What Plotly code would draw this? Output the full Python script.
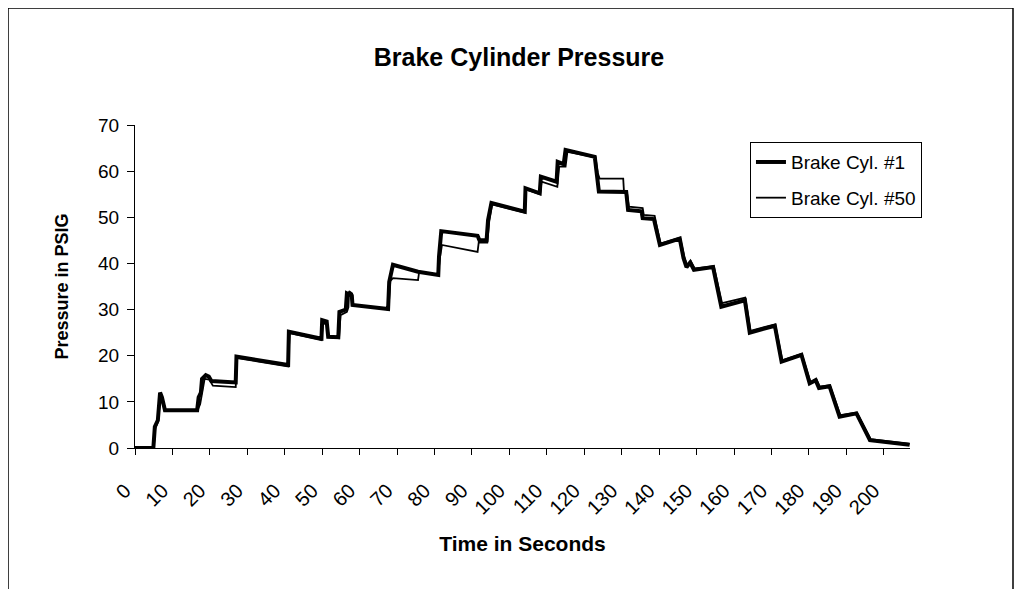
import plotly.graph_objects as go

# Brake Cyl. #1 (time in s, pressure in PSIG)
t_cyl1 = [0, 4.9, 5.3, 6.1, 6.7, 7.2, 8.0,
          16.6, 17.0, 17.6, 17.9, 18.9, 19.7, 20.4, 26.9,
          27.1, 40.9, 41.1, 49.8,
          50.0, 51.2, 51.6, 54.3,
          54.6, 56.3, 56.6, 57.9, 58.1, 67.6,
          67.9, 68.9, 75.6, 81.0,
          81.2, 81.8, 91.5, 92.0, 93.9,
          94.3, 95.2, 104.1,
          104.3, 108.1,
          108.4, 112.6,
          112.9, 114.5, 115.0, 122.8,
          123.3, 123.9, 131.2,
          131.7, 135.3,
          135.6, 138.6,
          139.3, 140.2, 145.5,
          146.5, 147.3, 148.3, 149.3, 154.4,
          156.6, 162.9,
          164.2, 170.9,
          172.7, 178.0,
          180.2, 181.8, 182.7, 185.5,
          188.2, 192.7,
          196.3, 206.9]
p_cyl1 = [0, 0, 4.6, 6.0, 12.0, 11.0, 8.2,
          8.2, 11.0, 12.0, 15.0, 15.8, 15.5, 14.5, 14.2,
          19.8, 18.0, 25.2, 23.7,
          27.7, 27.4, 24.1, 24.0,
          29.5, 30.0, 33.5, 33.0, 31.0, 30.1,
          36.0, 39.7, 38.2, 37.5,
          41.5, 47.0, 46.0, 45.0, 45.0,
          49.4, 53.1, 51.2,
          56.3, 55.2,
          58.8, 57.7,
          62.0, 61.5, 64.6, 63.1,
          60.0, 55.6, 55.5,
          51.6, 51.3,
          49.8, 49.6,
          47.2, 44.0, 45.4,
          41.2, 39.2, 40.2, 38.6, 39.2,
          30.6, 32.0,
          25.0, 26.5,
          18.7, 20.2,
          14.0, 14.7, 13.0, 13.4,
          6.8, 7.5,
          1.7, 0.7]

# Brake Cyl. #50
t_cyl50 = [0, 5.0, 5.4, 6.2, 6.8, 7.3, 8.1,
           16.6, 17.4, 17.9, 18.3, 18.6, 19.9, 20.8, 26.9,
           27.3, 40.9, 41.3, 49.8,
           50.2, 51.3, 51.8, 54.5,
           54.9, 56.6, 57.0, 57.2, 58.0, 58.3, 67.7,
           68.2, 68.9, 75.6, 75.9, 81.0,
           81.4, 82.0, 91.5, 91.8, 94.1,
           94.6, 95.4, 104.1,
           104.5, 108.2,
           108.6, 112.8,
           113.3, 115.0, 115.5, 123.0,
           123.6, 124.1, 130.4, 130.6, 131.4,
           131.9, 135.6,
           135.9, 138.8,
           139.5, 140.4, 145.6,
           146.7, 147.5, 148.5, 149.5, 154.6,
           156.8, 163.0,
           164.4, 171.0,
           172.9, 178.1,
           180.4, 182.0, 182.9, 185.6,
           188.4, 192.8,
           196.5, 206.9]
p_cyl50 = [0, 0, 4.2, 5.8, 11.6, 10.8, 8.0,
           8.0, 9.5, 12.0, 13.0, 15.0, 14.8, 13.5, 13.2,
           19.5, 17.7, 24.9, 23.4,
           27.0, 26.8, 24.0, 23.8,
           28.8, 29.5, 30.5, 34.0, 33.5, 31.0, 30.0,
           36.2, 36.8, 36.4, 38.2, 37.5,
           41.0, 44.0, 42.5, 44.5, 44.5,
           49.0, 52.8, 51.0,
           56.0, 55.0,
           57.7, 56.6,
           61.0, 61.0, 64.2, 63.0,
           59.6, 58.4, 58.4, 55.6, 55.4,
           52.3, 52.0,
           50.5, 50.3,
           47.5, 44.3, 45.6,
           41.5, 39.5, 40.4, 38.9, 39.4,
           31.4, 32.6,
           25.4, 26.8,
           19.0, 20.4,
           14.3, 14.9, 13.3, 13.6,
           7.1, 7.7,
           1.9, 0.9]

x_ticks = [0, 10, 20, 30, 40, 50, 60, 70, 80, 90, 100,
           110, 120, 130, 140, 150, 160, 170, 180, 190, 200]
y_ticks = [0, 10, 20, 30, 40, 50, 60, 70]

FONT = "Arial, Liberation Sans, sans-serif"

fig = go.Figure()
fig.add_trace(go.Scatter(x=t_cyl1, y=p_cyl1, mode="lines", name="Brake Cyl. #1",
                         legendgroup="c1",
                         line=dict(color="black", width=4)))
fig.add_trace(go.Scatter(x=t_cyl50, y=p_cyl50, mode="lines", name="Brake Cyl. #50",
                         legendgroup="c50",
                         line=dict(color="black", width=1.8)))

# the page has an 8px body margin, so figure px = screen px - 8
# plot area on screen: x 135..910, y 125..448
fig.update_layout(
    width=1022, height=589, autosize=False,
    margin=dict(l=127, r=120, t=117, b=149),
    paper_bgcolor="white", plot_bgcolor="white",
    font=dict(family=FONT, color="black", size=18),
    title=dict(text="<b>Brake Cylinder Pressure</b>", font=dict(size=25),
               x=511 / 1022, xref="container", xanchor="center",
               y=1 - 49 / 589, yref="container", yanchor="middle"),
    legend=dict(x=0.7935, y=0.947, xanchor="left", yanchor="top",
                bordercolor="black", borderwidth=1, bgcolor="white",
                font=dict(size=19), tracegroupgap=8),
    shapes=[dict(type="rect", xref="paper", yref="paper",
                 x0=(0 - 127) / 775, x1=(1005 - 127) / 775,
                 y0=-0.6, y1=(440 - 0) / 323,
                 line=dict(color="black", width=1.5), layer="below")],
)

fig.update_xaxes(
    range=[0, 207], showgrid=False, zeroline=False,
    showline=True, linecolor="black", linewidth=1,
    ticks="outside", ticklen=6, tickcolor="black",
    tickvals=x_ticks, ticktext=[str(v) for v in x_ticks],
    tickangle=-45, ticklabelshift=-10, ticklabelstandoff=16,
    tickfont=dict(size=20),
    title=dict(text="<b>Time in Seconds</b>", font=dict(size=21), standoff=18),
)
fig.update_yaxes(
    range=[0, 70], showgrid=False, zeroline=False,
    showline=True, linecolor="black", linewidth=1,
    ticks="outside", ticklen=7, tickcolor="black",
    tickvals=y_ticks, tickfont=dict(size=19), ticklabelstandoff=4,
    title=dict(text="<b>Pressure in PSIG</b>", font=dict(size=18), standoff=24),
)

fig.write_html("out.html")
